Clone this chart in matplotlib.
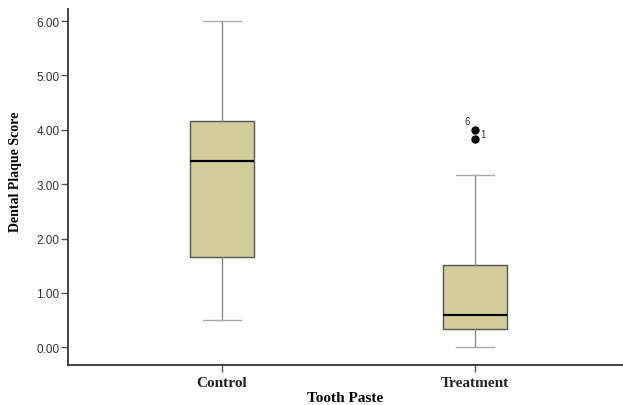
import matplotlib
matplotlib.use("Agg")
import matplotlib.pyplot as plt

# values
groups = ["Control", "Treatment"]
whislo = [0.50, 0.00]
q1 = [1.67, 0.34]
med = [3.42, 0.59]
q3 = [4.17, 1.51]
whishi = [6.00, 3.17]
fliers = [[], [4.00, 3.83]]
flier_ids = [[], ["6", "1"]]

stats = [
    dict(label=g, whislo=lo, q1=a, med=m, q3=b, whishi=hi, fliers=f)
    for g, lo, a, m, b, hi, f in zip(groups, whislo, q1, med, q3, whishi, fliers)
]

fig = plt.figure(figsize=(6.23, 4.06), dpi=100)
ax = fig.add_axes([0.109, 0.0985, 0.891, 0.8765])

ax.bxp(
    stats,
    positions=[1, 2],
    widths=0.25,
    patch_artist=True,
    boxprops=dict(facecolor="#d3ce99", edgecolor="#555555", linewidth=1.0),
    medianprops=dict(color="black", linewidth=1.6),
    whiskerprops=dict(color="#8a8a8a", linewidth=1.0),
    capprops=dict(color="#aaaaaa", linewidth=1.0),
    capwidths=0.147,
    flierprops=dict(marker="o", markerfacecolor="black", markeredgecolor="black",
                    markersize=5, linestyle="none"),
)

# case labels next to outliers
for pos, vals, ids in zip([1, 2], fliers, flier_ids):
    for k, (v, lab) in enumerate(zip(vals, ids)):
        if k == 0:
            ax.text(pos - 0.03, v + 0.07, lab, fontsize=7, family="Liberation Sans",
                    color="#333333", ha="center", va="bottom")
        else:
            ax.text(pos + 0.02, v + 0.0, lab, fontsize=7, family="Liberation Sans",
                    color="#333333", ha="left", va="bottom")

ax.set_xlim(0.391, 2.585)
ax.set_ylim(-0.325, 6.22)
ax.set_yticks([0, 1, 2, 3, 4, 5, 6])
ax.set_yticklabels([f"{v:.2f}" for v in range(7)], family="Liberation Sans",
                   fontsize=8.5, color="#333333")
ax.set_xticks([1, 2])
ax.set_xticklabels(groups, family="Liberation Serif", fontweight="bold", fontsize=11)

ax.spines["top"].set_visible(False)
ax.spines["right"].set_visible(False)
for s in ("left", "bottom"):
    ax.spines[s].set_linewidth(1.3)
    ax.spines[s].set_color("#333333")
ax.tick_params(axis="y", direction="out", length=5, width=1, colors="#555555",
               labelcolor="#333333", pad=1)
ax.tick_params(axis="x", direction="out", length=5, width=1, colors="#555555",
               labelcolor="#222222", pad=3)

ax.set_xlabel("Tooth Paste", family="Liberation Serif", fontweight="bold",
              fontsize=11, labelpad=1)
ax.set_ylabel("Dental Plaque Score", family="Liberation Serif", fontweight="bold",
              fontsize=10)
ax.yaxis.set_label_coords(-0.082, 0.545)

fig.savefig("out.png", dpi=100)
